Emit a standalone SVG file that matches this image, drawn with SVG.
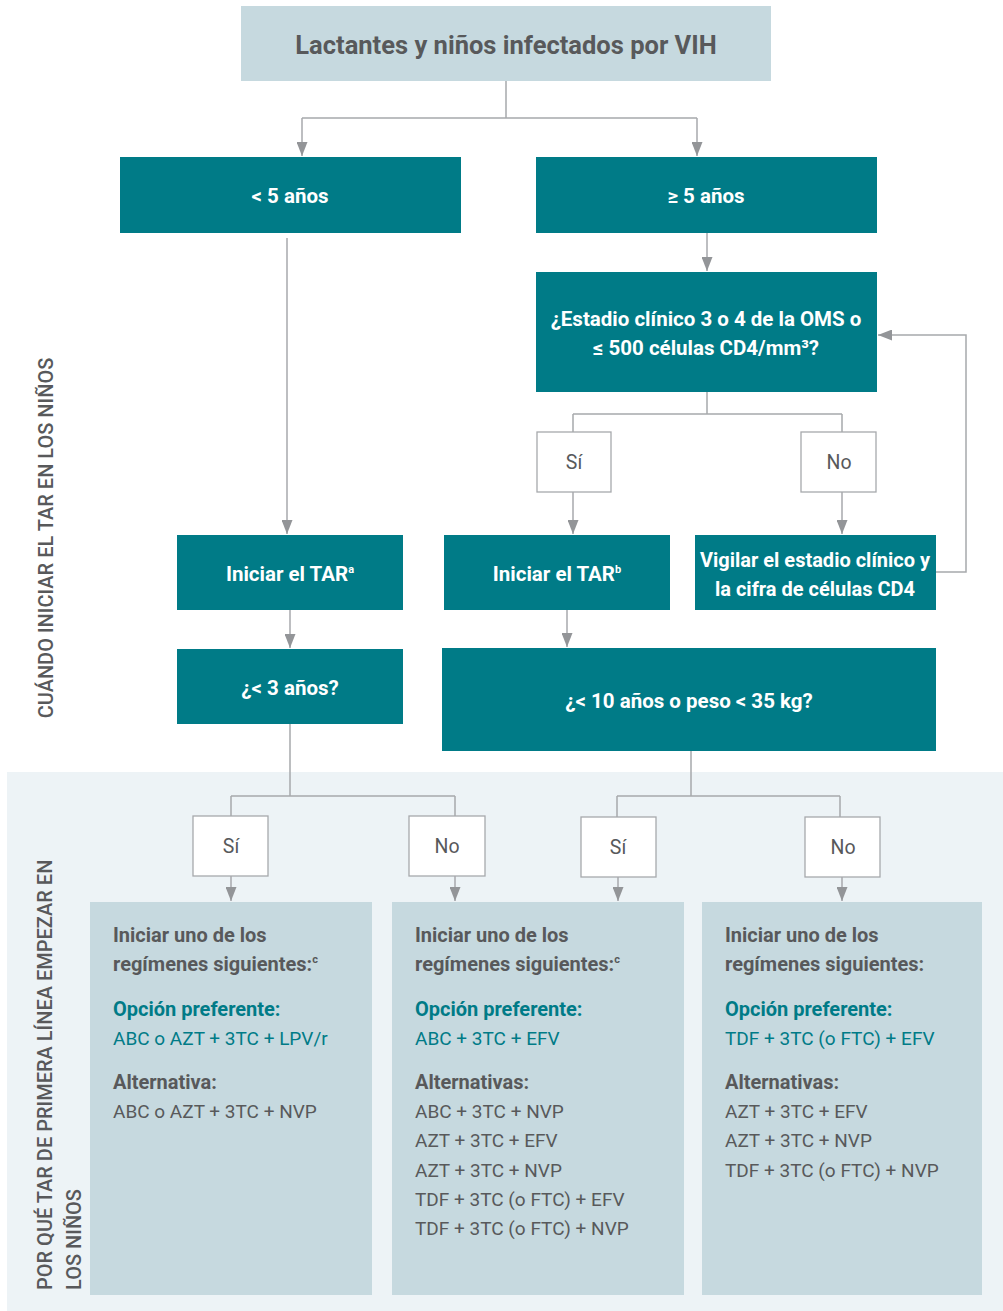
<svg xmlns="http://www.w3.org/2000/svg" width="1003" height="1311" viewBox="0 0 1003 1311">
<style>
text{font-family:Roboto,"Noto Sans","Liberation Sans",sans-serif;}
.teal{fill:#007b87;}
.light{fill:#c6d9df;}
.small{fill:#ffffff;stroke:#a7a9ac;stroke-width:1.3;}
.wt{fill:#ffffff;font-weight:bold;font-size:20.5px;text-anchor:middle;}
.gt{fill:#58595b;font-size:19.5px;text-anchor:middle;}
.hd{fill:#58595b;font-weight:bold;font-size:20px;}
.tl{fill:#007b87;font-weight:bold;font-size:20px;}
.tr{fill:#007b87;font-size:19px;}
.rg{fill:#58595b;font-size:19px;}
.side{fill:#58595b;font-size:20px;font-weight:500;}
.ln{fill:none;stroke:#a7a9ac;stroke-width:1.5;}
.sup{font-size:11px;}
</style>
<defs>
<marker id="ah" viewBox="0 0 14 11" refX="14" refY="5.5" markerWidth="14" markerHeight="11" markerUnits="userSpaceOnUse" orient="auto">
<path d="M0,0 L14,5.5 L0,11 Z" fill="#939598"/>
</marker>
</defs>
<rect x="0" y="0" width="1003" height="1311" fill="#ffffff"/>
<rect x="7" y="772" width="996" height="539" fill="#edf3f6"/>

<g id="side-labels">
<text class="side" transform="translate(53,538) rotate(-90)" text-anchor="middle">CUÁNDO INICIAR EL TAR EN LOS NIÑOS</text>
<text class="side" transform="translate(52,1290) rotate(-90)">POR QUÉ TAR DE PRIMERA LÍNEA EMPEZAR EN</text>
<text class="side" transform="translate(81,1290) rotate(-90)">LOS NIÑOS</text>
</g>

<g id="connectors">
<path class="ln" d="M506,81 V118 M302,118 H697"/>
<path class="ln" d="M302,118 V156" marker-end="url(#ah)"/>
<path class="ln" d="M697,118 V156" marker-end="url(#ah)"/>
<path class="ln" d="M707,233 V271" marker-end="url(#ah)"/>
<path class="ln" d="M707,392 V414 M573,414 H842 M573,414 V432 M842,414 V432"/>
<path class="ln" d="M573,492 V534" marker-end="url(#ah)"/>
<path class="ln" d="M842,492 V534" marker-end="url(#ah)"/>
<path class="ln" d="M936,572 H966 V335 H878" marker-end="url(#ah)"/>
<path class="ln" d="M287,238 V534" marker-end="url(#ah)"/>
<path class="ln" d="M290,610 V648" marker-end="url(#ah)"/>
<path class="ln" d="M567,610 V647" marker-end="url(#ah)"/>
<path class="ln" d="M290,724 V796 M231,796 H455 M231,796 V816 M455,796 V816"/>
<path class="ln" d="M231,876 V901" marker-end="url(#ah)"/>
<path class="ln" d="M455,876 V901" marker-end="url(#ah)"/>
<path class="ln" d="M691,751 V796 M617,796 H840 M617,796 V817 M840,796 V817"/>
<path class="ln" d="M618,877 V901" marker-end="url(#ah)"/>
<path class="ln" d="M842,877 V901" marker-end="url(#ah)"/>
</g>

<g id="n-title">
<rect class="light" x="241" y="6" width="530" height="75"/>
<text x="506" y="54" fill="#58595b" font-weight="bold" font-size="25.5" text-anchor="middle">Lactantes y niños infectados por VIH</text>
</g>
<g id="n-menor5">
<rect class="teal" x="120" y="157" width="341" height="76"/>
<text class="wt" x="290" y="203">&lt; 5 años</text>
</g>
<g id="n-mayor5">
<rect class="teal" x="536" y="157" width="341" height="76"/>
<text class="wt" x="706" y="203">≥ 5 años</text>
</g>
<g id="n-estadio">
<rect class="teal" x="536" y="272" width="341" height="120"/>
<text class="wt" x="706" y="326">¿Estadio clínico 3 o 4 de la OMS o</text>
<text class="wt" x="706" y="355">≤ 500 células CD4/mm³?</text>
</g>
<g id="n-si1">
<rect class="small" x="537" y="432" width="74" height="60"/>
<text class="gt" x="574" y="469">Sí</text>
</g>
<g id="n-no1">
<rect class="small" x="801" y="432" width="75" height="60"/>
<text class="gt" x="839" y="469">No</text>
</g>
<g id="n-tar-a">
<rect class="teal" x="177" y="535" width="226" height="75"/>
<text class="wt" x="290" y="581">Iniciar el TAR<tspan class="sup" dy="-8">a</tspan></text>
</g>
<g id="n-tar-b">
<rect class="teal" x="444" y="535" width="226" height="75"/>
<text class="wt" x="557" y="581">Iniciar el TAR<tspan class="sup" dy="-8">b</tspan></text>
</g>
<g id="n-vigilar">
<rect class="teal" x="695" y="535" width="241" height="75"/>
<text class="wt" x="815" y="567" style="font-size:20px">Vigilar el estadio clínico y</text>
<text class="wt" x="815" y="596" style="font-size:20px">la cifra de células CD4</text>
</g>
<g id="n-menor3">
<rect class="teal" x="177" y="649" width="226" height="75"/>
<text class="wt" x="290" y="695">¿&lt; 3 años?</text>
</g>
<g id="n-menor10">
<rect class="teal" x="442" y="648" width="494" height="103"/>
<text class="wt" x="689" y="708">¿&lt; 10 años o peso &lt; 35 kg?</text>
</g>
<g id="n-si2">
<rect class="small" x="193" y="816" width="75" height="60"/>
<text class="gt" x="231" y="853">Sí</text>
</g>
<g id="n-no2">
<rect class="small" x="409" y="816" width="76" height="60"/>
<text class="gt" x="447" y="853">No</text>
</g>
<g id="n-si3">
<rect class="small" x="581" y="817" width="75" height="60"/>
<text class="gt" x="618" y="854">Sí</text>
</g>
<g id="n-no3">
<rect class="small" x="805" y="817" width="75" height="60"/>
<text class="gt" x="843" y="854">No</text>
</g>

<g id="n-reg1">
<rect class="light" x="90" y="902" width="282" height="393"/>
<text class="hd" x="113" y="942">Iniciar uno de los</text>
<text class="hd" x="113" y="971">regímenes siguientes:<tspan class="sup" dy="-8">c</tspan></text>
<text class="tl" x="113" y="1016">Opción preferente:</text>
<text class="tr" x="113" y="1045">ABC o AZT + 3TC + LPV/r</text>
<text class="hd" x="113" y="1089">Alternativa:</text>
<text class="rg" x="113" y="1118">ABC o AZT + 3TC + NVP</text>
</g>
<g id="n-reg2">
<rect class="light" x="392" y="902" width="292" height="393"/>
<text class="hd" x="415" y="942">Iniciar uno de los</text>
<text class="hd" x="415" y="971">regímenes siguientes:<tspan class="sup" dy="-8">c</tspan></text>
<text class="tl" x="415" y="1016">Opción preferente:</text>
<text class="tr" x="415" y="1045">ABC + 3TC + EFV</text>
<text class="hd" x="415" y="1089">Alternativas:</text>
<text class="rg" x="415" y="1118">ABC + 3TC + NVP</text>
<text class="rg" x="415" y="1147">AZT + 3TC + EFV</text>
<text class="rg" x="415" y="1177">AZT + 3TC + NVP</text>
<text class="rg" x="415" y="1206">TDF + 3TC (o FTC) + EFV</text>
<text class="rg" x="415" y="1235">TDF + 3TC (o FTC) + NVP</text>
</g>
<g id="n-reg3">
<rect class="light" x="702" y="902" width="280" height="393"/>
<text class="hd" x="725" y="942">Iniciar uno de los</text>
<text class="hd" x="725" y="971">regímenes siguientes:</text>
<text class="tl" x="725" y="1016">Opción preferente:</text>
<text class="tr" x="725" y="1045">TDF + 3TC (o FTC) + EFV</text>
<text class="hd" x="725" y="1089">Alternativas:</text>
<text class="rg" x="725" y="1118">AZT + 3TC + EFV</text>
<text class="rg" x="725" y="1147">AZT + 3TC + NVP</text>
<text class="rg" x="725" y="1177">TDF + 3TC (o FTC) + NVP</text>
</g>
</svg>
